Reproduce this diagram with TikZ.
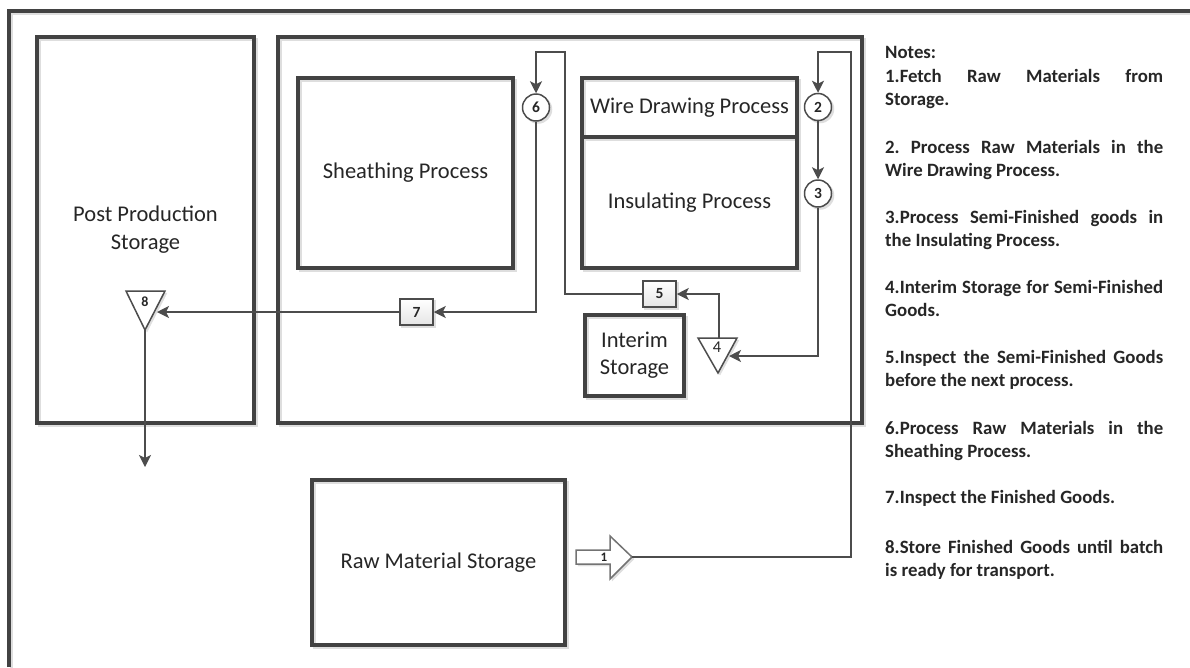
\documentclass[tikz,border=0pt]{standalone}
\usepackage{fontspec}
\setmainfont{Carlito}
\usetikzlibrary{arrows.meta,calc}
\definecolor{ln}{HTML}{424242}
\definecolor{cn}{HTML}{4C4C4C}
\definecolor{tx}{HTML}{262626}
\definecolor{sh}{HTML}{DEDEDE}
\frenchspacing
\begin{document}
\begin{tikzpicture}[x=1pt,y=-1pt,
  frameline/.style={draw=ln,line width=3.6pt,
    preaction={draw=sh,line width=3.6pt,transform canvas={xshift=2.5pt,yshift=-2.5pt}}},
  bigbox/.style={frameline,rectangle,inner sep=0pt,text=tx,align=center,
    font=\fontsize{22.5}{28}\selectfont},
  numcirc/.style={circle,draw=cn,line width=1.5pt,fill=white,minimum size=27pt,inner sep=0pt,
    text=tx,font=\fontsize{15.5}{15.5}\selectfont\bfseries,
    preaction={fill=sh,draw=sh,transform canvas={xshift=2pt,yshift=-2pt}}},
  numbox/.style={rectangle,draw=cn,line width=1.5pt,top color=white,bottom color=black!10,
    minimum width=33pt,minimum height=26pt,inner sep=0pt,text=tx,
    font=\fontsize{15.5}{15.5}\selectfont\bfseries,
    preaction={fill=sh,draw=sh,transform canvas={xshift=2pt,yshift=-2pt}}},
  tri/.style={draw=cn,line width=1.5pt,fill=white,line join=miter,
    preaction={fill=sh,draw=sh,transform canvas={xshift=2pt,yshift=-2pt}}},
  conn/.style={draw=cn,line width=1.6pt,-{Stealth[length=12pt,width=12pt,inset=3pt]}},
  note/.style={anchor=north west,inner sep=0pt,text width=278pt,align=justify,text=tx,
    font=\fontsize{18.8}{23.3}\selectfont\bfseries},
  smalllab/.style={inner sep=0pt,text=tx}
]
\useasboundingbox (0,0) rectangle (1190,667);
% outer frame
\draw[frameline] (9,667) -- (9,11) -- (1190,11);

% main boxes
\node[bigbox,minimum width=217pt,minimum height=386pt] (pps) at (145.5,230) {Post Production\\Storage};
\node[bigbox,minimum width=584pt,minimum height=386pt] (plant) at (570,230) {};
\node[bigbox,minimum width=215pt,minimum height=190pt] (sheath) at (405.5,173) {Sheathing Process};
\node[bigbox,minimum width=215pt,minimum height=59pt] (wire) at (689.5,107.5) {Wire Drawing Process};
\node[bigbox,minimum width=215pt,minimum height=131pt] (insul) at (689.5,202.5) {Insulating Process};
\node[bigbox,minimum width=99pt,minimum height=81pt,font=\fontsize{22.5}{27}\selectfont] (interim) at (634.5,355.5) {Interim\\Storage};
\node[bigbox,minimum width=253pt,minimum height=165pt] (raw) at (438.5,562.5) {Raw Material Storage};

% numbered circles and boxes
\node[numcirc] (c6) at (536,107.5) {6};
\node[numcirc] (c2) at (818,107) {2};
\node[numcirc] (c3) at (818,193.5) {3};
\node[numbox] (b5) at (659.5,294) {5};
\node[numbox] (b7) at (416.5,312) {7};

% triangles (storage)
\coordinate (t4a) at (698,338);
\coordinate (t4b) at (737,338);
\coordinate (t4c) at (718,373);
\draw[tri] (t4a) -- (t4b) -- (t4c) -- cycle;
\node[smalllab,font=\fontsize{16.5}{16.5}\selectfont] (l4) at (717,347) {4};
\coordinate (t4in) at (729,356);
\coordinate (t4top) at (719,338);

\coordinate (t8a) at (126,291);
\coordinate (t8b) at (165,291);
\coordinate (t8c) at (145,330);
\draw[tri] (t8a) -- (t8b) -- (t8c) -- cycle;
\node[smalllab,font=\fontsize{14}{14}\selectfont\bfseries] (l8) at (145,302) {8};
\coordinate (t8in) at (157,312);
\coordinate (out) at (145,467);

% block arrow 1
\coordinate (a1tip) at (632,557);
\draw[tri,draw=black!55] (576,550) -- (610,550) -- (610,536) -- (a1tip) -- (610,579) -- (610,564) -- (576,564) -- cycle;
\node[smalllab,font=\fontsize{13}{13}\selectfont\bfseries] (l1) at (604,557) {1};

% connector corner points
\coordinate (r1) at (851,557);
\coordinate (r2) at (851,52);
\coordinate (k1) at (565,52);

% connectors
\draw[conn] (a1tip) -- (r1) -- (r2) -| (c2.north);
\draw[conn] (c2.south) -- (c3.north);
\draw[conn] (c3.south) |- (t4in);
\draw[conn] (t4top) |- (b5.east);
\draw[conn] (b5.west) -| (k1) -| (c6.north);
\draw[conn] (c6.south) |- (b7.east);
\draw[conn] (b7.west) -- (t8in);
\draw[conn] (t8c) -- (out);

% notes
\node[note] (nh) at (885,46) {Notes:};
\node[note] (n1) at (885,66) {\strut 1.Fetch Raw Materials from\linebreak Storage.};
\node[note] (n2) at (885,137) {\strut 2. Process Raw Materials in the\linebreak Wire Drawing Process.};
\node[note] (n3) at (885,207) {\strut 3.Process Semi-Finished goods in\linebreak the Insulating Process.};
\node[note] (n4) at (885,277) {\strut 4.Interim Storage for Semi-Finished\linebreak Goods.};
\node[note] (n5) at (885,347) {\strut 5.Inspect the Semi-Finished Goods\linebreak before the next process.};
\node[note] (n6) at (885,418) {\strut 6.Process Raw Materials in the\linebreak Sheathing Process.};
\node[note] (n7) at (885,487) {\strut 7.Inspect the Finished Goods.};
\node[note] (n8) at (885,537) {\strut 8.Store Finished Goods until batch\linebreak is ready for transport.};
\end{tikzpicture}
\end{document}
